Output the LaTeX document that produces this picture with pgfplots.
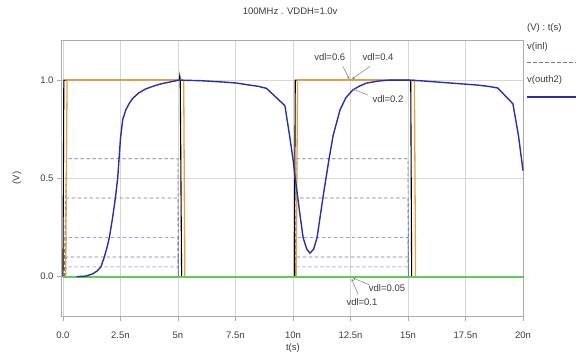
\documentclass[border=0pt]{standalone}
\usepackage{fontspec}
\setmainfont{Liberation Sans}
\usepackage{pgfplots}
\pgfplotsset{compat=1.18}
\usetikzlibrary{arrows.meta}
\definecolor{cOrange}{RGB}{232,160,64}
\definecolor{cBlue}{RGB}{45,45,165}
\definecolor{cGreen}{RGB}{95,205,85}
\definecolor{cDash}{RGB}{115,115,165}
\definecolor{cFrame}{RGB}{170,170,170}
\definecolor{cGrid}{RGB}{215,215,215}
\definecolor{cText}{RGB}{60,60,60}
\begin{document}
\begin{tikzpicture}[font=\fontsize{9.5}{11}\selectfont]
\path[use as bounding box] (-62pt,-38pt) rectangle (514pt,316pt);
\begin{axis}[
  at={(0pt,0pt)}, anchor=south west,
  scale only axis, width=461pt, height=276pt,
  xmin=-0.04, xmax=20, ymin=-0.2, ymax=1.204,
  clip=false,
  axis line style={cFrame, line width=1pt},
  tick style={cFrame, line width=0.8pt},
  tick align=outside, major tick length=5pt,
  xtick={0,2.5,5,7.5,10,12.5,15,17.5,20},
  xticklabels={0.0,2.5n,5n,7.5n,10n,12.5n,15n,17.5n,20n},
  ytick={0,0.5,1.0},
  yticklabels={0.0,0.5,1.0},
  xtick pos=bottom, ytick pos=left,
  grid=major, major grid style={cGrid, line width=0.6pt},
  every tick label/.append style={font=\fontsize{9.5}{11}\selectfont, text=cText},
  xticklabel style={yshift=-7pt},
  /pgf/number format/assume math mode=true,
  title={100MHz . VDDH=1.0v},
  title style={at={(axis description cs:0.495,1.083)}, anchor=center, text=cText, font=\fontsize{9.5}{11}\selectfont},
  xlabel={t(s)},
  x label style={at={(axis description cs:0.501,-0.116)}, anchor=center, text=cText, font=\fontsize{9.5}{11}\selectfont},
  ylabel={(V)},
  y label style={at={(axis description cs:-0.098,0.5)}, anchor=center, text=cText, font=\fontsize{9.5}{11}\selectfont},
]
% v(inl) pulses, vdl = 0.6, 0.4, 0.2, 0.1, 0.05
\addplot[cDash, line width=0.7pt, dash pattern=on 3.5pt off 2.5pt] coordinates {(0.05,0) (0.15,0.6) (5.0,0.6) (5.02,0) (10.1,0) (10.15,0.6) (15.0,0.6) (15.02,0)};
\addplot[cDash, line width=0.7pt, dash pattern=on 3.5pt off 2.5pt] coordinates {(0.05,0) (0.15,0.4) (5.0,0.4) (5.02,0) (10.1,0) (10.15,0.4) (15.0,0.4) (15.02,0)};
\addplot[cDash, line width=0.7pt, dash pattern=on 3.5pt off 2.5pt] coordinates {(0.05,0) (0.15,0.2) (5.0,0.2) (5.02,0) (10.1,0) (10.15,0.2) (15.0,0.2) (15.02,0)};
\addplot[cDash, line width=0.7pt, dash pattern=on 3.5pt off 2.5pt] coordinates {(0.05,0) (0.15,0.1) (5.0,0.1) (5.02,0) (10.1,0) (10.15,0.1) (15.0,0.1) (15.02,0)};
\addplot[cDash, line width=0.7pt, dash pattern=on 3.5pt off 2.5pt] coordinates {(0.05,0) (0.15,0.05) (5.0,0.05) (5.02,0) (10.1,0) (10.15,0.05) (15.0,0.05) (15.02,0)};
% outputs vdl=0.6 / 0.4
\addplot[black, line width=1.1pt] coordinates {(0.0,0) (0.04,1.0) (5.06,1.0) (5.08,1.02) (5.1,1.0) (5.16,0) (10.06,0) (10.1,1.0) (15.12,1.0) (15.16,0) (20,0)};
\addplot[cOrange, line width=1.3pt] coordinates {(0.12,0) (0.18,1.0) (5.25,1.0) (5.3,0) (10.14,0) (10.2,1.0) (15.28,1.0) (15.33,0) (20,0)};
% vdl=0.1 / 0.05 output
\addplot[cGreen, line width=1.8pt] coordinates {(0,0) (20,0)};
% vdl=0.2 output v(outh2)
\addplot[cBlue, line width=1.4pt] coordinates {
(0.6,0.0) (1.0,0.003) (1.3,0.015) (1.5,0.03) (1.65,0.05) (1.8,0.1) (1.92,0.15) (2.02,0.2)
(2.16,0.3) (2.28,0.4) (2.38,0.5) (2.44,0.6) (2.5,0.7) (2.6,0.8) (2.74,0.85) (2.9,0.885)
(3.06,0.91) (3.3,0.935) (3.6,0.955) (3.9,0.968) (4.3,0.982) (4.76,0.993) (5.05,1.0)
(6.0,0.997) (7.0,0.99) (7.55,0.985) (8.1,0.975) (8.5,0.968) (8.85,0.958) (9.65,0.87)
(9.85,0.72) (10.0,0.6) (10.1,0.5) (10.3,0.32) (10.44,0.2) (10.6,0.14) (10.74,0.12)
(10.9,0.14) (11.05,0.2) (11.3,0.4) (11.57,0.6) (11.75,0.72) (12.05,0.85) (12.3,0.91)
(12.6,0.95) (12.9,0.97) (13.2,0.985) (13.7,0.995) (14.2,1.0) (15.0,1.0) (15.5,0.997)
(16.3,0.99) (17.2,0.982) (18.0,0.975) (18.5,0.968) (18.9,0.96) (19.56,0.88) (19.8,0.72) (20.0,0.54)};
% annotations
\draw[gray, line width=0.5pt, -{Stealth[length=3pt,width=2.5pt]}] (axis cs:12.17,1.07) -- (axis cs:12.45,1.005);
\draw[gray, line width=0.5pt, -{Stealth[length=3pt,width=2.5pt]}] (axis cs:13.35,1.07) -- (axis cs:12.57,1.005);
\draw[gray, line width=0.5pt, -{Stealth[length=3pt,width=2.5pt]}] (axis cs:13.26,0.924) -- (axis cs:12.6,0.955);
\draw[gray, line width=0.5pt, -{Stealth[length=3pt,width=2.5pt]}] (axis cs:13.35,-0.043) -- (axis cs:12.6,-0.006);
\draw[gray, line width=0.5pt, -{Stealth[length=3pt,width=2.5pt]}] (axis cs:12.83,-0.09) -- (axis cs:12.55,-0.01);
\node[text=cText] at (axis cs:11.6,1.117) {vdl=0.6};
\node[text=cText] at (axis cs:13.7,1.117) {vdl=0.4};
\node[text=cText] at (axis cs:14.13,0.903) {vdl=0.2};
\node[text=cText] at (axis cs:14.09,-0.058) {vdl=0.05};
\node[text=cText] at (axis cs:13.0,-0.13) {vdl=0.1};
% legend
\node[anchor=west, text=cText, inner sep=0pt] at (rel axis cs:1.0087,1.043) {(V) : t(s)};
\node[anchor=west, text=cText, inner sep=0pt] at (rel axis cs:1.0087,0.975) {v(inl)};
\draw[cDash, line width=0.7pt, dash pattern=on 3.5pt off 2.5pt] (rel axis cs:1.0087,0.92) -- (rel axis cs:1.12,0.92);
\node[anchor=west, text=cText, inner sep=0pt] at (rel axis cs:1.0087,0.855) {v(outh2)};
\draw[cBlue, line width=1.4pt] (rel axis cs:1.0087,0.793) -- (rel axis cs:1.12,0.793);
\end{axis}
\end{tikzpicture}
\end{document}
